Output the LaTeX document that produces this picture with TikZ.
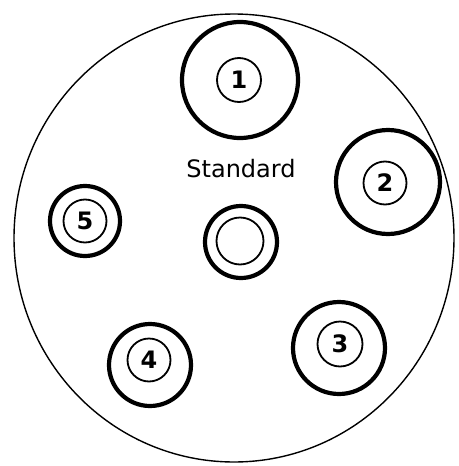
\documentclass[tikz,border=0pt]{standalone}
\usepackage{fontspec}
\setmainfont{DejaVu Sans}
\usetikzlibrary{positioning}

\begin{document}
\begin{tikzpicture}[
  x=1pt, y=-1pt,
  ring/.style={circle, draw, line width=4.2pt, inner sep=0pt},
  core/.style={circle, draw, line width=1.8pt, inner sep=0pt,
    font=\fontsize{24}{24}\selectfont\bfseries},
  label/.style={font=\fontsize{24}{24}\selectfont},
]
  \useasboundingbox (0,0) rectangle (458,466);
  % Plate
  \draw[line width=1.4pt] (234,238) ellipse [x radius=220, y radius=224];
  % Samples
  \node[ring, minimum size=116pt] (r1) at (240,80) {};
  \node[core, minimum size=44pt] (c1) at (239,80) {1};
  \node[ring, minimum size=104pt] (r2) at (388,182) {};
  \node[core, minimum size=43pt] (c2) at (385,183) {2};
  \node[ring, minimum size=92pt] (r3) at (339,348) {};
  \node[core, minimum size=45pt] (c3) at (340,344) {3};
  \node[ring, minimum size=82pt] (r4) at (150,365) {};
  \node[core, minimum size=43pt] (c4) at (149,360) {4};
  \node[ring, minimum size=70pt] (r5) at (85,221) {};
  \node[core, minimum size=43pt] (c5) at (85,221) {5};
  % Standard
  \node[ring, minimum size=72pt] (rs) at (241,242) {};
  \node[core, minimum size=47pt] (cs) at (240,241) {};
  \node[label] (std) at (241,169) {Standard};
\end{tikzpicture}
\end{document}
